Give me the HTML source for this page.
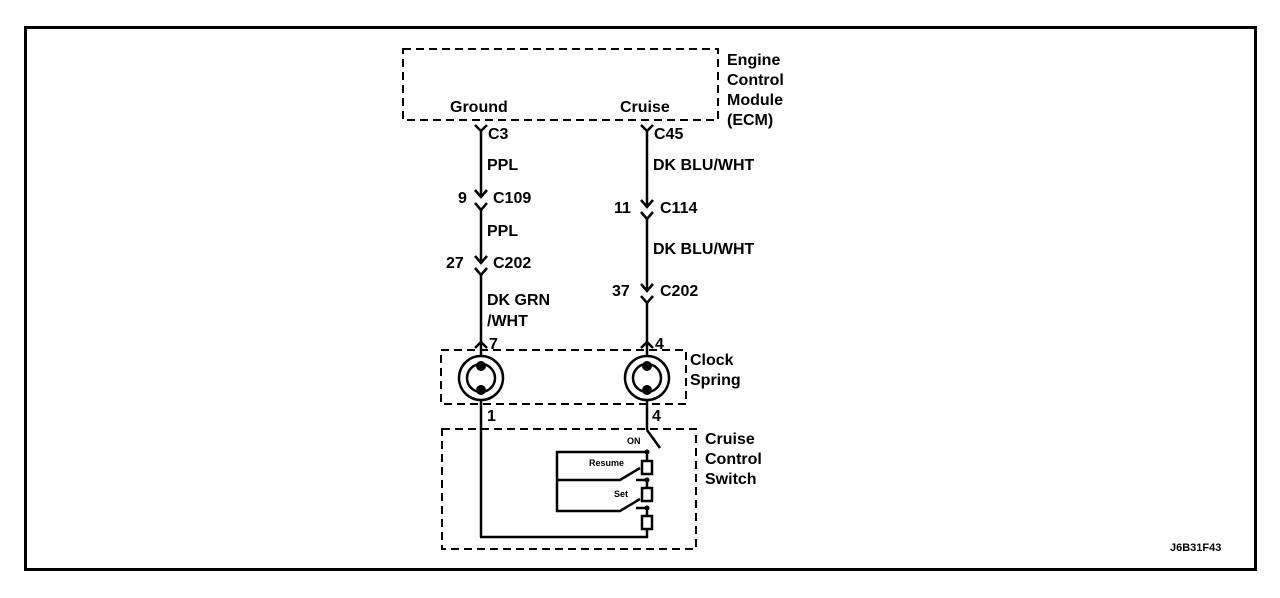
<!DOCTYPE html>
<html><head><style>
html,body{margin:0;padding:0;background:#fff;}
svg{display:block;}
text{font-family:"Liberation Sans",Arial,sans-serif;font-weight:bold;fill:#000;}
</style></head><body>
<svg width="1280" height="598" viewBox="0 0 1280 598" xmlns="http://www.w3.org/2000/svg">
<rect x="25.5" y="27.5" width="1230" height="542" fill="none" stroke="#000" stroke-width="3"/>
<g fill="none" stroke="#000" stroke-width="2" stroke-dasharray="8,5">
<rect x="403" y="49" width="315" height="71"/>
<rect x="441" y="350" width="245" height="54"/>
<rect x="442" y="429" width="254" height="120"/>
</g>
<g font-size="16">
<text x="727" y="65">Engine</text>
<text x="727" y="85">Control</text>
<text x="727" y="105">Module</text>
<text x="727" y="125">(ECM)</text>
<text x="450" y="112">Ground</text>
<text x="620" y="112">Cruise</text>
<text x="488" y="139">C3</text>
<text x="654" y="139">C45</text>
<text x="487" y="170">PPL</text>
<text x="653" y="170">DK BLU/WHT</text>
<text x="458" y="203">9</text>
<text x="493" y="203">C109</text>
<text x="487" y="236">PPL</text>
<text x="614" y="213">11</text>
<text x="660" y="213">C114</text>
<text x="653" y="254">DK BLU/WHT</text>
<text x="446" y="268">27</text>
<text x="493" y="268">C202</text>
<text x="612" y="296">37</text>
<text x="660" y="296">C202</text>
<text x="487" y="305">DK GRN</text>
<text x="487" y="326">/WHT</text>
<text x="489" y="349">7</text>
<text x="655" y="349">4</text>
<text x="690" y="365">Clock</text>
<text x="690" y="385">Spring</text>
<text x="487" y="421">1</text>
<text x="652" y="421">4</text>
<text x="705" y="444">Cruise</text>
<text x="705" y="464">Control</text>
<text x="705" y="484">Switch</text>
</g>
<g font-size="9">
<text x="627" y="444">ON</text>
<text x="589" y="466">Resume</text>
<text x="614" y="497">Set</text>
</g>
<text x="1170" y="551" font-size="11">J6B31F43</text>
<g fill="none" stroke="#000" stroke-width="2.5">
<!-- left wire -->
<polyline points="475,125 481,131 487,125"/>
<line x1="481" y1="131" x2="481" y2="196"/>
<polyline points="475,190 481,197 487,190"/>
<polyline points="475,203 481,210 487,203"/>
<line x1="481" y1="210" x2="481" y2="262"/>
<polyline points="475,256 481,263 487,256"/>
<polyline points="475,268 481,275 487,268"/>
<line x1="481" y1="275" x2="481" y2="342"/>
<polyline points="475,348 481,342 487,348"/>
<line x1="481" y1="342" x2="481" y2="356"/>
<line x1="481" y1="400" x2="481" y2="537"/>
<line x1="480" y1="537" x2="648" y2="537"/>
<!-- right wire -->
<polyline points="641,125 647,131 653,125"/>
<line x1="647" y1="131" x2="647" y2="206"/>
<polyline points="641,200 647,207 653,200"/>
<polyline points="641,212 647,219 653,212"/>
<line x1="647" y1="219" x2="647" y2="290"/>
<polyline points="641,284 647,291 653,284"/>
<polyline points="641,296 647,303 653,296"/>
<line x1="647" y1="303" x2="647" y2="342"/>
<polyline points="641,348 647,342 653,348"/>
<line x1="647" y1="342" x2="647" y2="356"/>
<line x1="647" y1="400" x2="647" y2="430"/>
<line x1="647" y1="430" x2="660" y2="448"/>
<!-- switch -->
<line x1="647" y1="452" x2="647" y2="461"/>
<rect x="642" y="461" width="10" height="13"/>
<line x1="647" y1="480" x2="647" y2="488"/>
<rect x="642" y="488" width="10" height="13"/>
<line x1="647" y1="508" x2="647" y2="516"/>
<rect x="642" y="516" width="10" height="13"/>
<line x1="647" y1="529" x2="647" y2="538"/>
<polyline points="647,452 557,452 557,511 620,511 640,499"/>
<polyline points="557,480 620,480 640,468"/>
<line x1="636" y1="480" x2="647" y2="480"/>
<line x1="636" y1="508" x2="647" y2="508"/>
</g>
<g fill="#000">
<circle cx="647" cy="452" r="2.5"/>
<circle cx="647" cy="480" r="2.5"/>
<circle cx="647" cy="508" r="2.5"/>
</g>
<!-- clock spring circles -->
<g fill="none" stroke="#000" stroke-width="2.5">
<circle cx="481" cy="378" r="22"/>
<circle cx="481" cy="378" r="14"/>
<circle cx="647" cy="378" r="22"/>
<circle cx="647" cy="378" r="14"/>
</g>
<g fill="#000">
<circle cx="481" cy="366" r="5"/>
<circle cx="481" cy="390" r="5"/>
<circle cx="647" cy="366" r="5"/>
<circle cx="647" cy="390" r="5"/>
</g>
</svg>
</body></html>
